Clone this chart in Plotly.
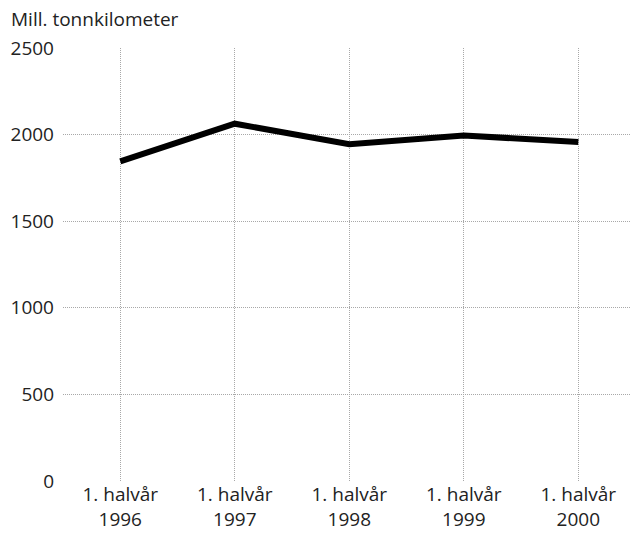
import plotly.graph_objects as go

categories = ["1. halvår<br>1996", "1. halvår<br>1997", "1. halvår<br>1998",
              "1. halvår<br>1999", "1. halvår<br>2000"]
values = [1845, 2063, 1945, 1995, 1957]
y_ticks = [0, 500, 1000, 1500, 2000, 2500]
y_title = "Mill. tonnkilometer"

FONT = "Open Sans"
TXT = "#222222"
GRID = "#a8a8a8"

x_pos = list(range(len(categories)))

fig = go.Figure()
fig.add_trace(go.Scatter(x=x_pos, y=values, mode="lines",
                         line=dict(color="black", width=6), showlegend=False,
                         hoverinfo="skip"))

fig.update_layout(
    width=631, height=536,
    margin=dict(l=63, r=0, t=48, b=55),
    paper_bgcolor="white", plot_bgcolor="white",
    font=dict(family=FONT, size=19, color=TXT),
    xaxis=dict(
        range=[-0.5, 4.46],
        tickmode="array", tickvals=[-0.5] + x_pos, ticktext=[""] + categories,
        showgrid=True, gridcolor=GRID, griddash="1px,1px", gridwidth=1,
        zeroline=False, showline=False, ticks="", ticklen=3,
    ),
    yaxis=dict(
        range=[0, 2500], tickvals=y_ticks,
        showgrid=True, gridcolor=GRID, griddash="1px,1px", gridwidth=1,
        zeroline=False, showline=False,
        ticks="", ticklabelstandoff=8,
    ),
    annotations=[dict(text=y_title, xref="paper", yref="paper", x=0, y=1,
                      xshift=-63 + 9, yshift=48 - 19, xanchor="left", yanchor="middle",
                      showarrow=False, font=dict(family=FONT, size=19, color=TXT))],
)

fig.write_html("out.html", config={"displayModeBar": False},
               post_script="document.body.style.margin='0';")
